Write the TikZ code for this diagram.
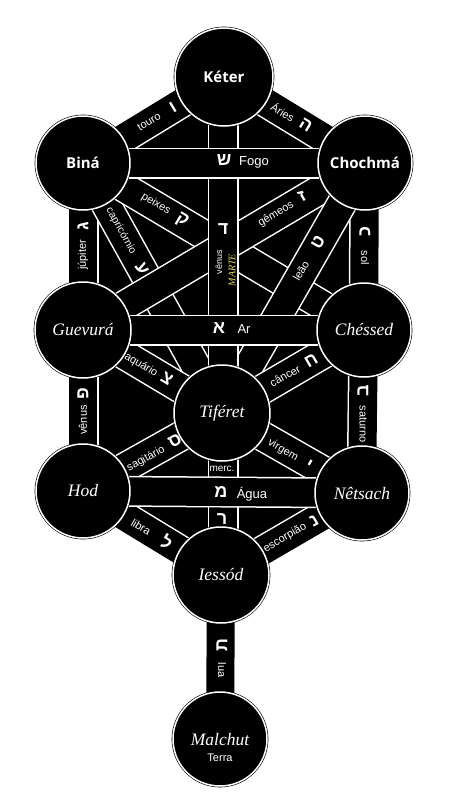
\documentclass[tikz,border=0pt]{standalone}
\usepackage{fontspec}
\setmainfont{Liberation Serif}
\setsansfont{Liberation Sans}
\newfontfamily\hebfont[Script=Hebrew]{Liberation Sans}
\newfontfamily\namefont{Open Sans}
\definecolor{penyellow}{RGB}{225,220,110}
\begin{document}
\begin{tikzpicture}[x=1pt,y=-1pt,
  sef/.style={circle, fill=black, draw=black, double=white, double distance=1.5pt, line width=0.6pt, inner sep=0pt, minimum size=#1},
  boldname/.style={text=white, inner sep=0pt, font=\namefont\bfseries\fontsize{15}{15}\selectfont},
  itname/.style={text=white, inner sep=0pt, font=\itshape\fontsize{17.5}{18}\selectfont},
  lab/.style={text=white, inner sep=0pt, font=\sffamily\fontsize{11}{11}\selectfont},
  biglab/.style={text=white, inner sep=0pt, font=\sffamily\fontsize{13}{13}\selectfont},
  heb/.style={text=white, inner sep=0pt, font=\hebfont\bfseries\fontsize{18}{18}\selectfont},
  pen/.style={text=penyellow, inner sep=0pt, font=\itshape\fontsize{10}{10}\selectfont}]
\useasboundingbox (0,0) rectangle (450,800);
% centres
\coordinate (K) at (224,77);
\coordinate (B) at (83,163);
\coordinate (C) at (365,163);
\coordinate (G) at (83,330);
\coordinate (H) at (364,330);
\coordinate (T) at (222,413);
\coordinate (O) at (83,491);
\coordinate (N) at (362,493);
\coordinate (Y) at (221,575);
\coordinate (M) at (220,739);
\coordinate (Kc) at (223,77);
\coordinate (Yc) at (223,575);
% black ground
\fill[black] (K) -- (C) -- (H) -- (N) -- (Y) -- (O) -- (G) -- (B) -- cycle;
\newcommand\band[2]{\draw[white,line width=31pt] (#1) -- (#2); \draw[black,line width=28pt] (#1) -- (#2);}
% outer paths
\band{K}{B}
\band{K}{C}
\band{B}{G}
\band{G}{O}
\band{C}{H}
\band{H}{N}
\band{O}{Y}
\band{N}{Y}
\band{Y}{M}
% upper diagonals
\band{B}{T}
\band{B}{H}
\band{C}{G}
\band{C}{T}
% lower diagonals
\band{G}{T}
\band{H}{T}
\band{O}{T}
\band{N}{T}
% central column
\band{Kc}{Yc}
% horizontals
\band{B}{C}
\band{G}{H}
\band{O}{N}
% sefirot circles
\node[sef=98pt] (keter) at (K) {};
\node[sef=94pt] (bina) at (B) {};
\node[sef=94pt] (chochma) at (C) {};
\node[sef=96pt] (guevura) at (G) {};
\node[sef=94pt] (chessed) at (H) {};
\node[sef=96pt] (tiferet) at (T) {};
\node[sef=94pt] (hod) at (O) {};
\node[sef=94pt] (netsach) at (N) {};
\node[sef=96pt] (iessod) at (Y) {};
\node[sef=94pt] (malchut) at (M) {};
% sefirot names
\node[boldname] (keterT) at (keter) {Kéter};
\node[boldname] (binaT) at (bina) {Biná};
\node[boldname] (chochmaT) at (chochma) {Chochmá};
\node[itname] (guevuraT) at (guevura) {Guevurá};
\node[itname] (chessedT) at (chessed) {Chéssed};
\node[itname] (tiferetT) at (tiferet) {Tiféret};
\node[itname] (hodT) at (hod) {Hod};
\node[itname] (netsachT) at (netsach) {Nêtsach};
\node[itname] (iessodT) at (iessod) {Iessód};
\node[itname] (malchutT) at (220,740) {Malchut};
\node[lab] (terra) at (220,758) {Terra};
% labels
\node[lab, rotate=31] (touro) at (149,122) {touro};
\node[heb, rotate=31] (vav) at (173,107) {ו};
\node[lab, rotate=-31] (aries) at (283,112) {Áries};
\node[heb, rotate=-31] (he) at (306,125) {ה};
\node[heb] (shin) at (224,160) {ש};
\node[biglab] (fogo) at (254,162) {Fogo};
\node[lab, rotate=-31] (peixes) at (156,204) {peixes};
\node[heb, rotate=-31] (qof) at (182,220) {ק};
\node[lab, rotate=-61, font=\sffamily\fontsize{10.5}{10}\selectfont] (capric) at (121,231) {capricórnio};
\node[heb, rotate=-61] (ayin) at (142,269) {ע};
\node[lab, rotate=31] (gemeos) at (276,214) {gêmeos};
\node[heb, rotate=31] (zayin) at (302,196) {ז};
\node[lab, rotate=60] (leao) at (301,271) {leão};
\node[heb, rotate=60] (tet) at (318,242) {ט};
\node[heb, rotate=90] (gimel) at (83,226) {ג};
\node[lab, rotate=90] (jupiter) at (83,255) {júpiter};
\node[heb, rotate=90] (kaf) at (365,232) {כ};
\node[lab, rotate=-90] (sol) at (365,258) {sol};
\node[heb] (dalet) at (223,229) {ד};
\node[lab, rotate=90, font=\sffamily\fontsize{9}{9}\selectfont] (venusc) at (219,262) {vênus};
\node[pen, rotate=90] (marte) at (232,270) {MARTE};
\node[heb] (alef) at (219,328) {א};
\node[biglab] (ar) at (244,329) {Ar};
\node[lab, rotate=-31] (aquario) at (141,365) {aquário};
\node[heb, rotate=-31] (tsadi) at (167,379) {צ};
\node[lab, rotate=30] (cancer) at (285,376) {câncer};
\node[heb, rotate=30] (chet) at (311,361) {ח};
\node[heb, rotate=90] (pe) at (83,394) {פ};
\node[lab, rotate=90] (venus) at (83,420) {vênus};
\node[heb, rotate=90] (bet) at (363,391) {ב};
\node[lab, rotate=-90] (saturno) at (363,424) {saturno};
\node[lab, rotate=29] (sagit) at (146,459) {sagitário};
\node[heb, rotate=29] (samech) at (175,441) {ס};
\node[lab, rotate=-30] (virgem) at (283,450) {virgem};
\node[heb, rotate=-30] (yod) at (309,465) {י};
\node[lab, font=\sffamily\fontsize{10}{10}\selectfont] (merc) at (222,469) {merc.};
\node[heb] (mem) at (221,492) {מ};
\node[biglab] (agua) at (252,494) {Água};
\node[heb] (resh) at (222,519) {ר};
\node[lab, rotate=-31] (libra) at (141,527) {libra};
\node[heb, rotate=-31] (lamed) at (167,542) {ל};
\node[lab, rotate=30] (escorp) at (285,538) {escorpião};
\node[heb, rotate=30] (nun) at (314,521) {נ};
\node[heb, rotate=90] (tav) at (222,645) {ת};
\node[lab, rotate=-90] (lua) at (222,670) {lua};
\end{tikzpicture}
\end{document}
